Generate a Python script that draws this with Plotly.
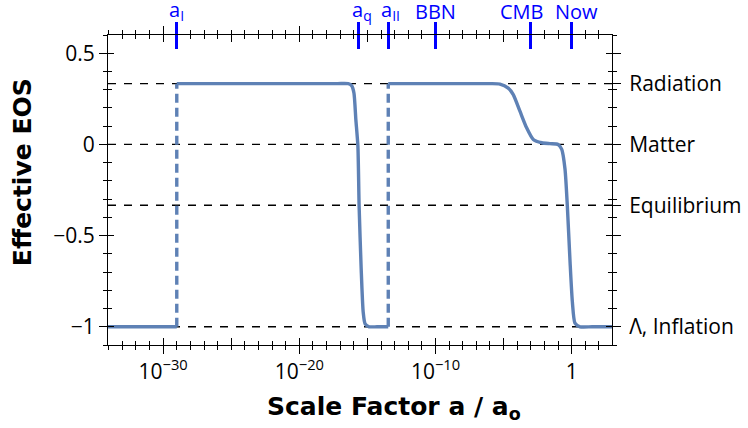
import plotly.graph_objects as go

# ---- axis extents (x in log10 of the scale factor) ----
LOG_A_MIN, LOG_A_MAX = -34.05, 2.96
W_MIN, W_MAX = -1.1, 0.6

# ---- effective equation of state, read as (log10 a, w) ----
# inflation before a_I
infl_loga = [-34.05, -29.0]
infl_w = [-1.0, -1.0]

# radiation era between a_I and a_q, then second inflation up to a_II
mid_loga = [-29.0, -22.0, -17.2, -16.41, -16.16, -15.99, -15.85, -15.70,
            -15.61, -15.46, -15.31, -15.17, -14.87, -14.3, -13.47]
mid_w = [0.3333, 0.3333, 0.3333, 0.333, 0.322, 0.282, 0.136, -0.009,
         -0.337, -0.68, -0.92, -0.984, -1.0, -1.0, -1.0]

# standard history after a_II: radiation -> matter -> Lambda
late_loga = [-13.47, -9.0, -6.0, -5.27, -4.66, -4.29, -3.80, -3.31, -2.82,
             -2.20, -1.60, -1.0, -0.73, -0.49, -0.32, -0.12, 0.05, 0.24,
             0.61, 1.5, 2.96]
late_w = [0.3333, 0.3333, 0.3333, 0.331, 0.309, 0.273, 0.182, 0.091, 0.027,
          0.009, 0.004, 0.0, -0.027, -0.136, -0.337, -0.645, -0.864, -0.98,
          -1.0, -1.0, -1.0]

# instantaneous reheating jumps at a_I and a_II
jump_loga = [-29.0, -13.47]
jump_w = [-1.0, 0.3333]

# epochs marked along the top edge
epoch_loga = [-29.0, -15.65, -13.47, -10.0, -3.04, 0.0]
epoch_names = ["a<sub>I</sub>", "a<sub>q</sub>", "a<sub>II</sub>", "BBN", "CMB", "Now"]

# reference equation-of-state levels
ref_w = [1 / 3, 0.0, -1 / 3, -1.0]
ref_names = ["Radiation", "Matter", "Equilibrium", "Λ, Inflation"]

# bottom axis ticks
major_loga = [-30, -25, -20, -15, -10, -5, 0]
major_text = ["10<sup>−30</sup>", "", "10<sup>−20</sup>", "", "10<sup>−10</sup>", "", "1"]
minor_loga = list(range(-34, 3))

# left axis ticks
w_ticks = [-1.0, -0.5, 0.0, 0.5]
w_text = ["−1", "−0.5", "0", "0.5"]
w_minor = [round(-1.1 + 0.1 * k, 2) for k in range(18)]

CURVE = "#5E81B5"
MARK = "#0000FF"
FONT = "Open Sans"
TITLE_FONT = "DejaVu Sans"

# horizontal nudges for the epoch labels so neighbours do not collide
epoch_label_shift = [0, 3, 2, 0, -8, 5]

def a(vals):
    return [10.0 ** v for v in vals]

fig = go.Figure()

# dashed reference levels
for w in ref_w:
    fig.add_trace(go.Scatter(
        x=a([LOG_A_MIN, LOG_A_MAX]), y=[w, w], mode="lines",
        line=dict(color="black", width=1.4, dash="8px,8px"),
        showlegend=False, hoverinfo="skip"))

# vertical jumps
for la in jump_loga:
    fig.add_trace(go.Scatter(
        x=a([la, la]), y=jump_w, mode="lines",
        line=dict(color=CURVE, width=3.4, dash="9px,5px"),
        showlegend=False, hoverinfo="skip"))

for xs, ys in [(infl_loga, infl_w), (mid_loga, mid_w), (late_loga, late_w)]:
    fig.add_trace(go.Scatter(
        x=a(xs), y=ys, mode="lines",
        line=dict(color=CURVE, width=3.4, shape="spline", smoothing=0.6),
        showlegend=False, hoverinfo="skip"))

# placeholder traces so the overlaid tick axes are drawn
for xa, ya in [("x2", "y2"), ("x3", "y3"), ("x4", "y4")]:
    fig.add_trace(go.Scatter(x=[None], y=[None], xaxis=xa, yaxis=ya,
                             showlegend=False, hoverinfo="skip"))

xrange = [LOG_A_MIN, LOG_A_MAX]
yrange = [W_MIN, W_MAX]
tickfont = dict(family=FONT, size=21, color="black")

common_x = dict(type="log", range=xrange, showgrid=False, zeroline=False,
                automargin=False)
common_y = dict(range=yrange, showgrid=False, zeroline=False, automargin=False)

annotations = [
    dict(text="<b>Effective EOS</b>", xref="paper", yref="paper",
         x=-0.1706, y=0.5575, xanchor="center", yanchor="middle",
         textangle=-90, showarrow=False,
         font=dict(family=TITLE_FONT, size=25, color="black")),
    dict(text="<b>Scale Factor a / a<sub>o</sub></b>", xref="paper", yref="paper",
         x=0.5675, y=-0.203, xanchor="center", yanchor="middle", showarrow=False,
         font=dict(family=TITLE_FONT, size=25, color="black")),
]
# epoch names above the blue top ticks, placed on the log x scale
for la, name, dx in zip(epoch_loga, epoch_names, epoch_label_shift):
    annotations.append(dict(
        text=name, x=la, xref="x", y=1, yref="paper",
        xanchor="center", yanchor="bottom", yshift=8, xshift=dx,
        showarrow=False, font=dict(family=FONT, size=20, color=MARK)))

fig.update_layout(
    width=748, height=428,
    margin=dict(l=108, r=136, t=35, b=83),
    plot_bgcolor="white", paper_bgcolor="white",
    font=dict(family=FONT, color="black"),
    xaxis=dict(**common_x, side="bottom", anchor="y",
               showline=True, linecolor="black", linewidth=1, mirror="allticks",
               ticks="outside", ticklen=8, tickwidth=1, tickcolor="black",
               tickmode="array", tickvals=a(major_loga), ticktext=major_text,
               tickfont=tickfont, tickangle=0,
               minor=dict(ticks="outside", ticklen=4, tickwidth=1, tickcolor="black",
                          tickmode="array", tickvals=a(minor_loga))),
    xaxis2=dict(**common_x, overlaying="x", side="bottom", anchor="y",
                showline=False, mirror="allticks",
                ticks="inside", ticklen=7, tickwidth=1, tickcolor="black",
                tickmode="array", tickvals=a(major_loga), showticklabels=False,
                minor=dict(ticks="inside", ticklen=4, tickwidth=1, tickcolor="black",
                           tickmode="array", tickvals=a(minor_loga))),
    xaxis3=dict(**common_x, overlaying="x", side="top", anchor="y",
                showline=False, ticks="outside", ticklen=12, tickwidth=3,
                tickcolor=MARK, tickmode="array", tickvals=a(epoch_loga),
                showticklabels=False),
    xaxis4=dict(**common_x, overlaying="x", side="top", anchor="y",
                showline=False, ticks="inside", ticklen=14, tickwidth=3,
                tickcolor=MARK, tickmode="array", tickvals=a(epoch_loga),
                showticklabels=False),
    yaxis=dict(**common_y, side="left", anchor="x",
               showline=True, linecolor="black", linewidth=1, mirror="allticks",
               ticks="outside", ticklen=8, tickwidth=1, tickcolor="black",
               tickmode="array", tickvals=w_ticks, ticktext=w_text,
               tickfont=tickfont, ticklabelstandoff=0,
               minor=dict(ticks="outside", ticklen=4, tickwidth=1, tickcolor="black",
                          tickmode="array", tickvals=w_minor)),
    yaxis2=dict(**common_y, overlaying="y", side="left", anchor="x",
                showline=False, mirror="allticks",
                ticks="inside", ticklen=6, tickwidth=1, tickcolor="black",
                tickmode="array", tickvals=w_ticks, showticklabels=False,
                minor=dict(ticks="inside", ticklen=4, tickwidth=1, tickcolor="black",
                           tickmode="array", tickvals=w_minor)),
    yaxis3=dict(**common_y, overlaying="y", side="right", anchor="x",
                showline=False, ticks="outside", ticklen=8, tickwidth=1,
                tickcolor="black", tickmode="array", tickvals=ref_w,
                ticktext=ref_names, ticklabelstandoff=4,
                tickfont=dict(family=FONT, size=21, color="black")),
    yaxis4=dict(**common_y, overlaying="y", side="right", anchor="x",
                showline=False, ticks="inside", ticklen=6, tickwidth=1,
                tickcolor="black", tickmode="array", tickvals=ref_w,
                showticklabels=False),
    annotations=annotations,
)

fig.write_html("out.html")
